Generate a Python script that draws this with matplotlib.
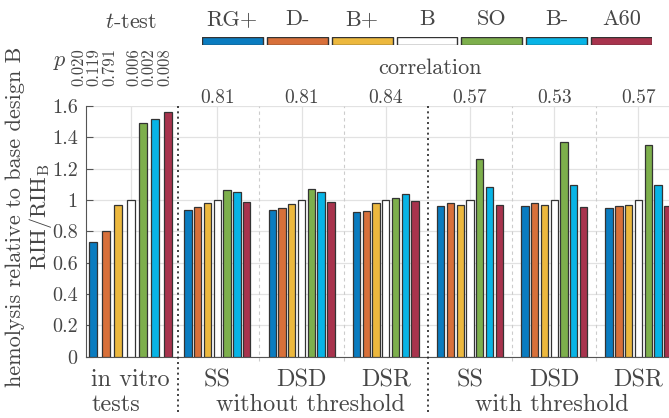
import matplotlib
matplotlib.use('Agg')
import matplotlib.pyplot as plt
import numpy as np

plt.rcParams['font.family'] = 'serif'
plt.rcParams['font.serif'] = ['cmr10']
plt.rcParams['mathtext.fontset'] = 'cm'
plt.rcParams['axes.unicode_minus'] = False
plt.rcParams['axes.formatter.use_mathtext'] = True

# data
designs = ['RG+', 'D-', 'B+', 'B', 'SO', 'B-', 'A60']
groups = ['in vitro', 'SS', 'DSD', 'DSR', 'SS', 'DSD', 'DSR']
in_vitro = [0.73, 0.80, 0.97, 1.00, 1.49, 1.515, 1.56]
ss_no = [0.936, 0.953, 0.979, 1.00, 1.064, 1.049, 0.987]
dsd_no = [0.934, 0.947, 0.977, 1.00, 1.068, 1.049, 0.985]
dsr_no = [0.921, 0.928, 0.979, 1.00, 1.011, 1.040, 0.994]
ss_th = [0.962, 0.983, 0.970, 1.00, 1.260, 1.081, 0.968]
dsd_th = [0.962, 0.983, 0.966, 1.00, 1.368, 1.096, 0.955]
dsr_th = [0.947, 0.960, 0.968, 1.00, 1.351, 1.096, 0.960]
correlation = ['0.81', '0.81', '0.84', '0.57', '0.53', '0.57']
p_values = ['0.020', '0.119', '0.791', '0.006', '0.002', '0.008']

colors = ['#0A7CC0', '#D8703A', '#ECB83E', '#FFFFFF', '#7DAF4C', '#08B4E6', '#A8334D']
txt = '#464646'

values = [in_vitro, ss_no, dsd_no, dsr_no, ss_th, dsd_th, dsr_th]
centers = [0.97, 2, 3, 4, 5, 6, 7]

fig = plt.figure(figsize=(6.69, 4.18), dpi=100)
ax = fig.add_axes([86 / 669, 61.3 / 418, 594.5 / 669, 250.7 / 418])
ax.set_xlim(0.44, 7.5)
ax.set_ylim(0, 1.6)

for g, vals in enumerate(values):
    if g == 0:
        pitch, w = 0.147, 0.095
    else:
        pitch, w = 0.116, 0.087
    xs = centers[g] + (np.arange(7) - 3) * pitch
    ax.bar(xs, vals, width=w, color=colors, edgecolor='#333333',
           linewidth=0.9, zorder=3)

# grid
ax.set_yticks(np.arange(0, 1.61, 0.2))
ax.yaxis.set_major_formatter(matplotlib.ticker.FormatStrFormatter('%g'))
ax.set_xticks(centers)
ax.set_xticklabels([])
ax.grid(True, color='#e2e2e2', linewidth=0.9, zorder=0)
ax.set_axisbelow(True)
ax.tick_params(axis='y', direction='in', length=5, color='#555555',
               labelsize=14.5, labelcolor=txt, pad=6)
ax.tick_params(axis='x', length=0)
for s in ['top', 'right']:
    ax.spines[s].set_visible(False)
ax.spines['left'].set_color('#555555')
ax.spines['bottom'].set_color('#555555')

for x in [2.5, 3.5, 5.5, 6.5]:
    ax.plot([x, x], [-0.03, 1.6], color='#cccccc', linestyle=(0, (3, 3)),
            linewidth=0.8, clip_on=False, zorder=1)
for x in [1.53, 4.5]:
    ax.plot([x, x], [-0.35, 1.6], color='#222222', linestyle=(0, (1.2, 2)),
            linewidth=1.2, clip_on=False, zorder=4)

# labels below
trans = matplotlib.transforms.blended_transform_factory(ax.transData, ax.transAxes)
row1, row2 = -0.117, -0.217
for g, name in enumerate(groups):
    if g == 0:
        ax.text(0.50, row1, name, transform=trans, ha='left',
                va='baseline', fontsize=17.5, color=txt)
    else:
        ax.text(centers[g], row1, name, transform=trans, ha='center',
                va='baseline', fontsize=17.5, color=txt)
ax.text(0.50, row2, 'tests', transform=trans, ha='left',
        va='baseline', fontsize=17.5, color=txt)
ax.text(3.1, row2, 'without threshold', transform=trans, ha='center',
        va='baseline', fontsize=17.5, color=txt)
ax.text(5.97, row2, 'with threshold', transform=trans, ha='center',
        va='baseline', fontsize=17.5, color=txt)

# correlation above
for g, c in enumerate(correlation):
    ax.text(centers[g + 1], 1.032, c, transform=trans, ha='center',
            va='center', fontsize=14, color=txt)
ax.text(4.53, 1.152, 'correlation', transform=trans, ha='center',
        va='center', fontsize=16, color=txt)

# t-test p values: two rotated blocks (before / after the base design)
ax.text(0.537, 1.08, '\n'.join(p_values[:3]), transform=trans, ha='center',
        va='bottom', rotation=90, fontsize=12, linespacing=1.0, color=txt)
ax.text(1.19, 1.08, '\n'.join(p_values[3:]), transform=trans, ha='center',
        va='bottom', rotation=90, fontsize=12, linespacing=1.0, color=txt)
ax.text(0.13, 1.175, '$p$', transform=trans, ha='center', va='center',
        fontsize=16, color=txt)
ax.text(0.97, 1.335, '$t$-test', transform=trans, ha='center', va='center',
        fontsize=16, color=txt)

# y label
fig.text(15 / 669, 0.481, 'hemolysis relative to base design B', rotation=90,
         ha='center', va='center', fontsize=16, color=txt)
fig.text(40 / 669, 0.481, r'$\mathrm{RIH}/\mathrm{RIH}_\mathrm{B}$', rotation=90,
         ha='center', va='center', fontsize=16, color=txt)

# legend
lax = fig.add_axes([201.7 / 669, (418 - 44.5) / 418, 450.6 / 669, 8 / 418])
lax.set_xlim(0, 7 - 4 / 65)
lax.set_ylim(0, 1)
lax.axis('off')
lx = np.arange(7) + 61 / 65 / 2
lax.bar(lx, 1, width=61 / 65, color=colors, edgecolor='#333333', linewidth=1.0)
for x, d in zip(lx, designs):
    lax.text(x, 3.2, d, ha='center', va='center', fontsize=16, color=txt,
             clip_on=False)

fig.savefig('out.png', dpi=100)
